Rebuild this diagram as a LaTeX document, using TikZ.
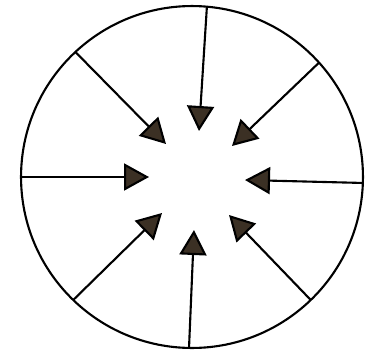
\documentclass[tikz,border=0pt]{standalone}
\usepackage{xcolor}
\usetikzlibrary{arrows.meta}
\definecolor{tipbrown}{HTML}{3B3024}
\tikzset{
  rim/.style={draw,circle,line width=1.2pt,minimum size=6.84cm,inner sep=0pt,outer sep=0pt},
  inarr/.style={-{Triangle[length=5mm,width=5.4mm,fill=tipbrown]},line width=1.2pt},
}
\begin{document}
\begin{tikzpicture}[x=0.02cm,y=0.02cm]
\useasboundingbox (-192,-179) rectangle (180,177);
\node[rim] (ring) at (0,0) {};
\foreach \a/\tx/\ty [count=\i] in {85/7/46,42/40/31,-2/53/-3,-46/37/-38,-91/2/-53,-134/-30/-36,180/-43/0,133/-26/33}
  {\coordinate (tip\i) at (\tx,\ty); \draw[inarr] (ring.\a) -- (tip\i);}
\end{tikzpicture}
\end{document}
